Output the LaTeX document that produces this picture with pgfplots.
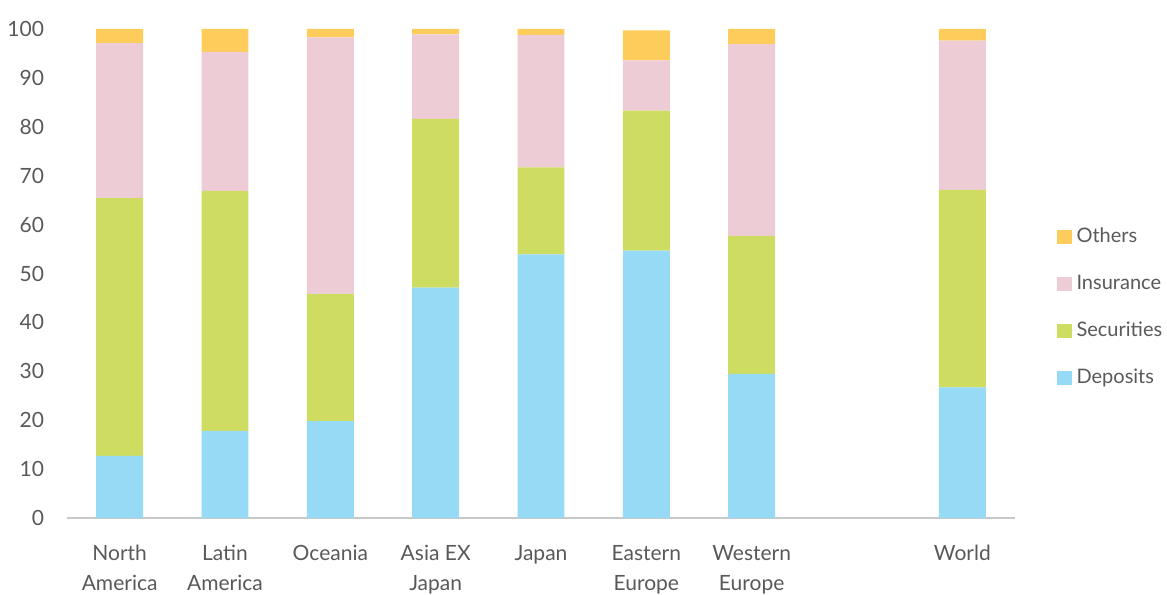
\documentclass[border=0pt]{standalone}
\usepackage{pgfplots}
\pgfplotsset{compat=1.18}
\usepackage{fontspec}
\setmainfont{Lato}
\definecolor{dep}{HTML}{96DAF6}
\definecolor{sec}{HTML}{CEDC61}
\definecolor{ins}{HTML}{EDCCD6}
\definecolor{oth}{HTML}{FDCC5A}
\definecolor{txt}{HTML}{595959}
\definecolor{axl}{HTML}{C8C8C8}
\pgfplotstableread{
x dep sec ins oth
0 12.7 52.7 31.7 2.9
1 17.8 49.1 28.4 4.7
2 19.8 26.0 52.5 1.7
3 47.1 34.5 17.3 1.1
4 53.9 17.8 27.1 1.2
5 54.7 28.6 10.3 6.1
6 29.5 28.2 39.2 3.1
8 26.7 40.4 30.5 2.4
}\datatable
\begin{document}
\begin{tikzpicture}
\begin{axis}[
  name=ax,
  scale only axis, width=474pt, height=244.5pt,
  ybar stacked, bar width=0.446,
  xmin=-0.5, xmax=8.5, ymin=0, ymax=100,
  clip=false,
  axis lines*=left,
  y axis line style={draw=none},
  x axis line style={draw=axl, line width=1pt},
  major tick length=0pt,
  xtick={0,1,2,3,4,5,6,8},
  xticklabels={North\\America, Latin\\America, Oceania, Asia EX\\Japan, Japan, Eastern\\Europe, Western\\Europe, World},
  ytick={0,10,...,100},
  tick label style={font=\fontsize{10.5}{15}\selectfont, text=txt},
  xticklabel style={align=center, yshift=-10pt},
  yticklabel style={xshift=-8pt},
  /pgf/number format/assume math mode=true,
  reverse legend,
  legend cell align=left,
  legend style={at={(1.044,0.4305)}, anchor=west, draw=none, fill=none, inner sep=0pt,
    font=\fontsize{10}{12}\selectfont, text=txt, row sep=10.5pt, column sep=1pt,
    nodes={inner sep=1.5pt, text height=8pt, text depth=2pt}},
  legend image code/.code={\fill[#1] (0pt,-3.6pt) rectangle (7.2pt,3.6pt);},
]
\addplot[fill=dep, draw=none] table[x=x, y=dep] {\datatable};
\addlegendentry{Deposits}
\addplot[fill=sec, draw=none] table[x=x, y=sec] {\datatable};
\addlegendentry{Securities}
\addplot[fill=ins, draw=none] table[x=x, y=ins] {\datatable};
\addlegendentry{Insurance}
\addplot[fill=oth, draw=none] table[x=x, y=oth] {\datatable};
\addlegendentry{Others}
\end{axis}
\pgfresetboundingbox
\path[use as bounding box] ([xshift=-33.5pt,yshift=-38pt]ax.south west) rectangle ([xshift=76pt,yshift=14.5pt]ax.north east);
\end{tikzpicture}
\end{document}
